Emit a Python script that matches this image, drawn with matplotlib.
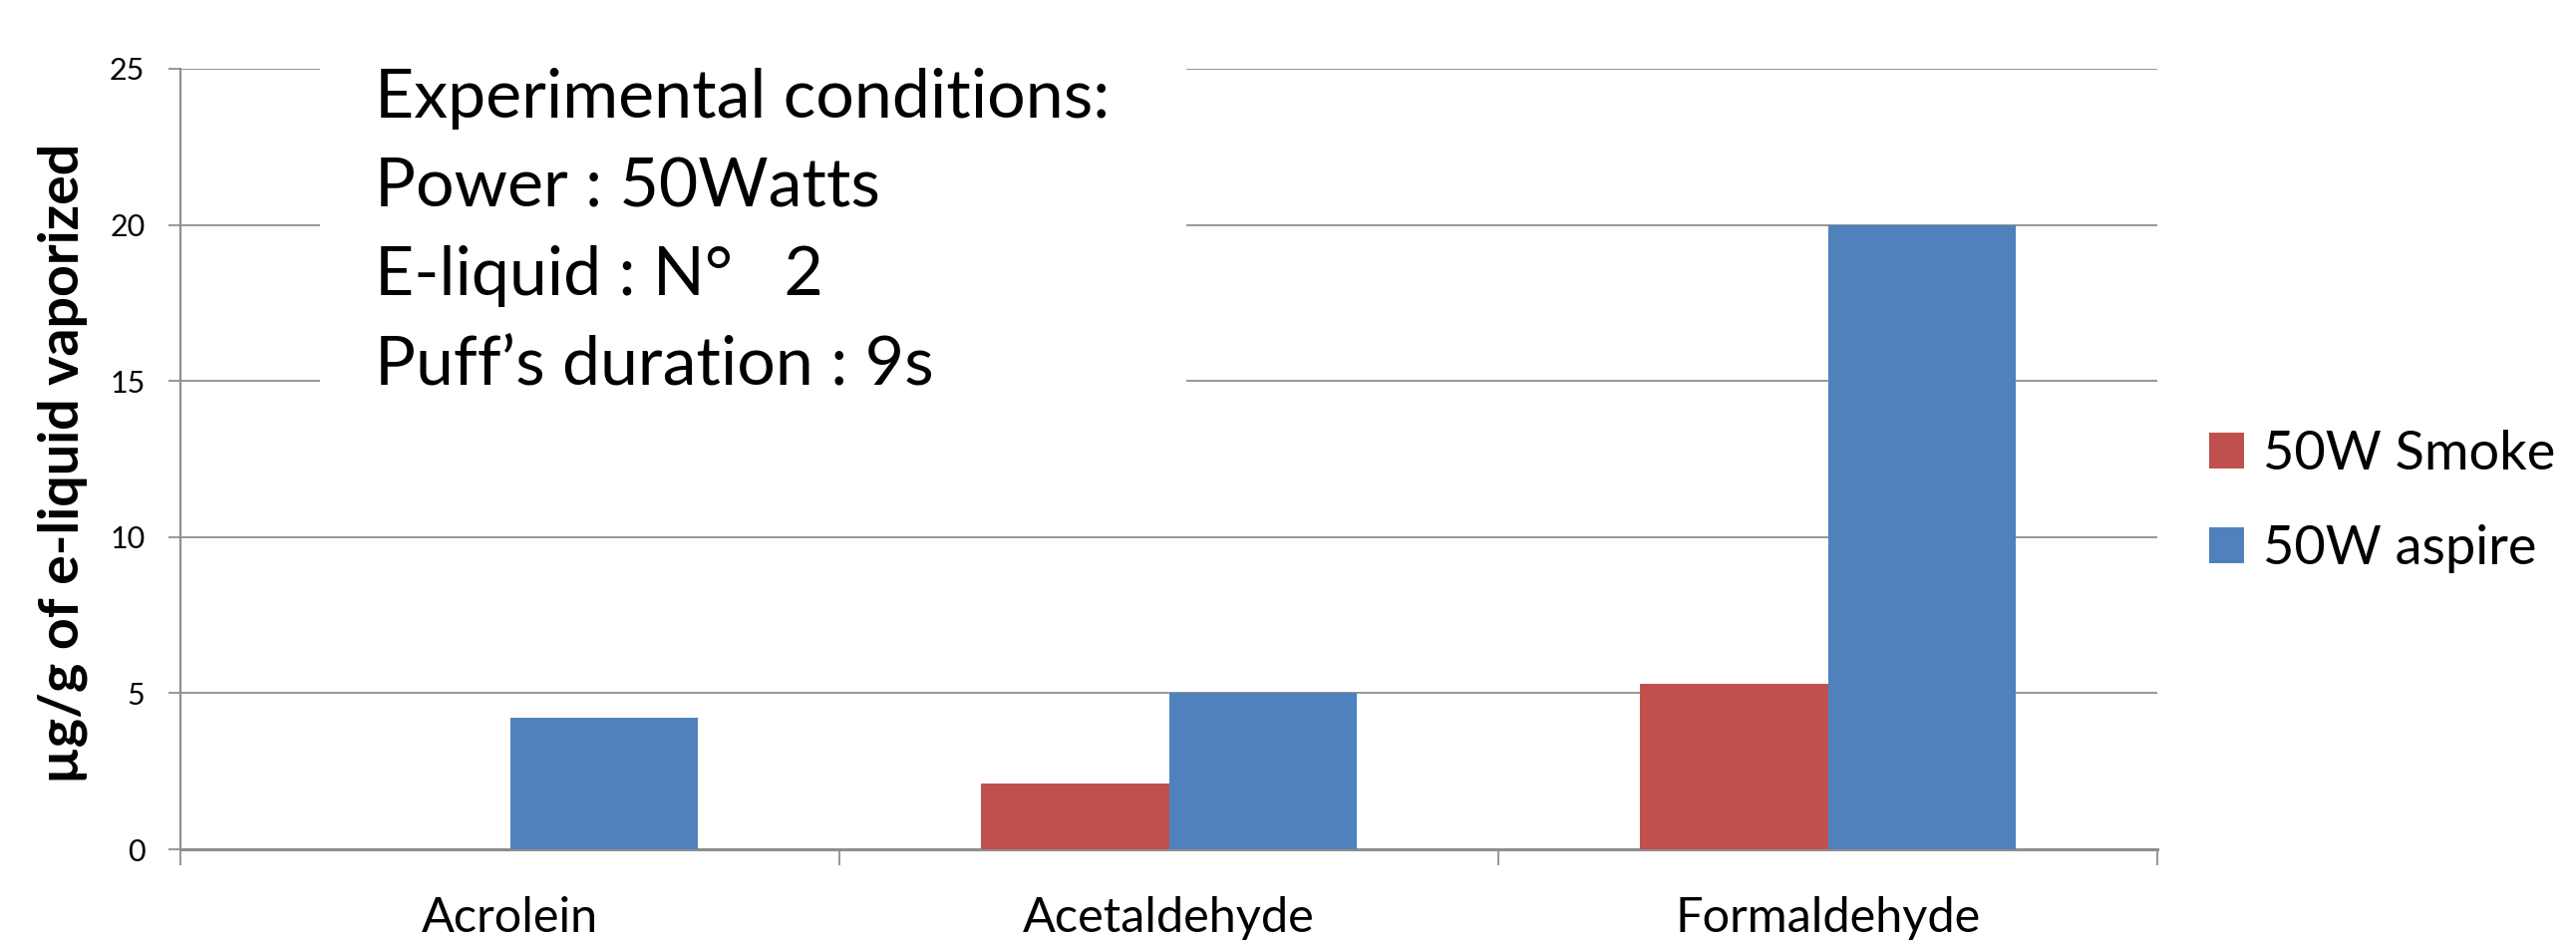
import numpy as np
import matplotlib.pyplot as plt
from matplotlib.patches import Rectangle

plt.rcParams['font.family'] = ['Lato', 'DejaVu Sans']

# Daten:
kategorien = ['Acrolein', 'Acetaldehyde', 'Formaldehyde']
smoke = [0.0, 2.1, 5.3]          # 50W Smoke
aspire = [4.2, 5.0, 20.0]        # 50W aspire
serien = ['50W Smoke', '50W aspire']
yticks = [0, 5, 10, 15, 20, 25]
bedingungen = ['Experimental conditions:',
               'Power : 50Watts',
               'E-liquid : N\u00b0\u2002 2',
               'Puff\u2019s duration : 9s']

rot = '#C0504D'
blau = '#4F81BD'
grau = '#8E8E8E'

fig = plt.figure(figsize=(25.84, 9.46), dpi=100)
ax = fig.add_axes([181/2584, 1-852/946, (2164-181)/2584, (852-69)/946])

x = np.arange(len(kategorien))
b = 0.285
ax.bar(x - b/2, smoke, b, color=rot, label=serien[0], zorder=3)
ax.bar(x + b/2, aspire, b, color=blau, label=serien[1], zorder=3)

ax.set_xlim(-0.5, len(kategorien) - 0.5)
ax.set_ylim(0, 25)
ax.set_yticks(yticks)
ax.yaxis.grid(True, color=grau, linewidth=1.3, zorder=0)
ax.set_axisbelow(True)

# Achsen
for s in ['top', 'right']:
    ax.spines[s].set_visible(False)
ax.spines['left'].set_color(grau)
ax.spines['left'].set_linewidth(1.6)
ax.spines['bottom'].set_color(grau)
ax.spines['bottom'].set_linewidth(2.2)

ax.tick_params(axis='y', length=8.6, width=1.3, color=grau, pad=17, labelsize=22)
ax.set_xticks(np.arange(len(kategorien) + 1) - 0.5)
ax.set_xticklabels([])
ax.set_xticks(x, minor=True)
ax.set_xticklabels(kategorien, minor=True, fontsize=35)
ax.tick_params(axis='x', which='major', length=11.5, width=1.3, color=grau)
ax.tick_params(axis='x', which='minor', length=0, pad=34)

fig.text(63/2584, 1-465/946, '\u00b5g/g of e-liquid vaporized', rotation=90,
         fontsize=40, fontweight='bold', ha='center', va='center')

# Textfeld mit weissem Hintergrund
ax.add_patch(Rectangle((0.0707, 0.5726), 0.438, 0.47, transform=ax.transAxes,
                       facecolor='white', edgecolor='none', zorder=4, clip_on=False))
for i, zeile in enumerate(bedingungen):
    ax.text((228-110)/1203, 1 - (72 - 42 + i*54)/475, zeile, transform=ax.transAxes,
            fontsize=49, ha='left', va='baseline', zorder=5)

fig.legend(loc='center left', bbox_to_anchor=(2216/2584, 1-503/946), frameon=False,
           fontsize=39, handlelength=0.65, handleheight=0.65, handletextpad=0.35,
           labelspacing=0.85, borderpad=0, borderaxespad=0)

fig.savefig('out.png', dpi=100)
